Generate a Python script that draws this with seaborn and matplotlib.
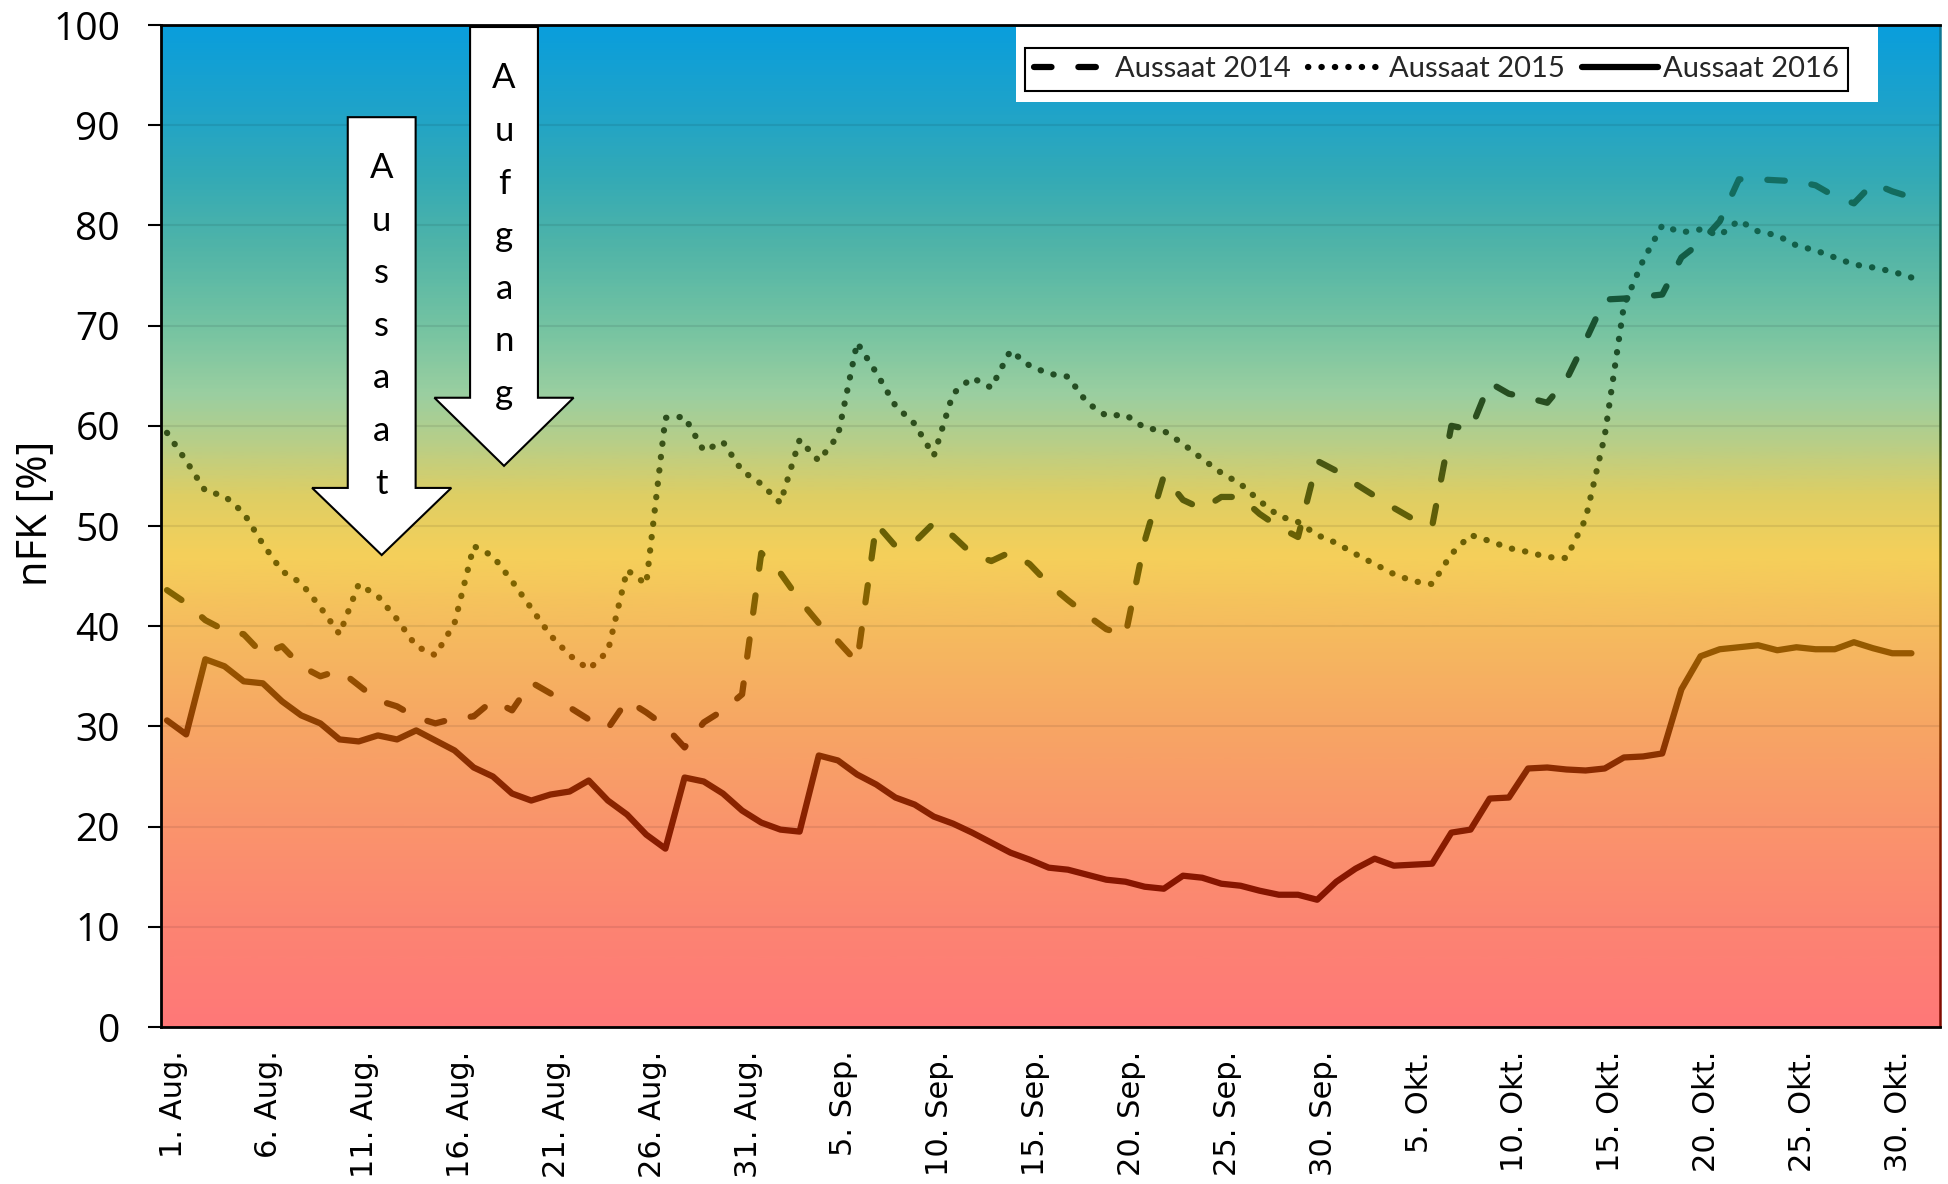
import numpy as np
import pandas as pd
import matplotlib
matplotlib.use("Agg")
import matplotlib.pyplot as plt
import seaborn as sns
from matplotlib.colors import LinearSegmentedColormap
from matplotlib.lines import Line2D
from matplotlib.patches import Polygon, Rectangle
from matplotlib.patheffects import AbstractPathEffect
from matplotlib.transforms import Bbox, ScaledTranslation

# ---------------------------------------------------------------- data
dates = pd.date_range("2016-08-01", "2016-10-31", freq="D")
day = np.arange(len(dates))

tick_labels = [
    "1. Aug.", "6. Aug.", "11. Aug.", "16. Aug.", "21. Aug.", "26. Aug.",
    "31. Aug.", "5. Sep.", "10. Sep.", "15. Sep.", "20. Sep.", "25. Sep.",
    "30. Sep.", "5. Okt.", "10. Okt.", "15. Okt.", "20. Okt.", "25. Okt.",
    "30. Okt.",
]

series_names = ["Aussaat 2014", "Aussaat 2015", "Aussaat 2016"]

nfk_2014 = [
    43.6, 42.3, 40.6, 39.6, 39.2, 37.2, 38.0, 36.0, 35.0, 35.6,
    34.1, 32.6, 32.0, 30.9, 30.3, 30.8, 31.0, 32.6, 31.6, 34.4,
    33.3, 31.9, 30.7, 29.8, 32.6, 31.4, 30.0, 27.9, 30.4, 31.6,
    33.2, 47.3, 45.3, 42.6, 40.3, 38.5, 36.4, 50.2, 48.0, 48.4,
    50.3, 49.0, 47.2, 46.5, 47.4, 46.2, 44.2, 42.6, 41.1, 39.7,
    39.1, 48.5, 55.0, 52.6, 51.7, 52.9, 52.9, 51.2, 49.9, 48.9,
    56.5, 55.5, 54.2, 53.0, 51.8, 50.7, 50.0, 60.0, 59.6, 64.3,
    63.2, 62.8, 62.3, 64.6, 68.5, 72.6, 72.7, 72.9, 73.1, 76.8,
    78.3, 80.4, 84.6, 84.6, 84.5, 84.4, 84.0, 82.9, 82.2, 84.2,
    83.4, 82.8,
]

nfk_2015 = [
    59.3, 56.5, 53.5, 53.0, 51.3, 48.2, 45.5, 44.3, 41.9, 39.2,
    44.2, 43.0, 40.7, 38.0, 37.1, 40.3, 48.0, 47.0, 44.5, 41.8,
    39.1, 37.1, 35.7, 37.5, 45.6, 44.2, 60.8, 60.9, 57.5, 58.4,
    55.5, 54.2, 52.3, 58.6, 56.5, 59.0, 68.3, 65.3, 62.0, 60.2,
    57.0, 63.2, 64.8, 63.8, 67.5, 66.0, 65.2, 64.9, 62.3, 61.0,
    61.1, 59.8, 59.5, 58.2, 56.7, 55.3, 54.2, 52.5, 51.0, 50.4,
    49.1, 48.3, 47.2, 46.2, 45.2, 44.5, 44.2, 47.2, 49.1, 48.5,
    47.8, 47.4, 46.9, 46.8, 50.7, 59.0, 72.0, 76.5, 80.0, 79.3,
    79.6, 79.0, 80.5, 79.4, 79.0, 78.0, 77.5, 76.8, 76.1, 75.8,
    75.4, 74.8,
]

nfk_2016 = [
    30.6, 29.2, 36.7, 36.0, 34.5, 34.3, 32.5, 31.1, 30.3, 28.7,
    28.5, 29.1, 28.7, 29.6, 28.6, 27.6, 25.9, 25.0, 23.3, 22.6,
    23.2, 23.5, 24.6, 22.6, 21.2, 19.2, 17.8, 24.9, 24.5, 23.3,
    21.6, 20.4, 19.7, 19.5, 27.1, 26.6, 25.2, 24.2, 22.9, 22.2,
    21.0, 20.3, 19.4, 18.4, 17.4, 16.7, 15.9, 15.7, 15.2, 14.7,
    14.5, 14.0, 13.8, 15.1, 14.9, 14.3, 14.1, 13.6, 13.2, 13.2,
    12.7, 14.5, 15.8, 16.8, 16.1, 16.2, 16.3, 19.4, 19.7, 22.8,
    22.9, 25.8, 25.9, 25.7, 25.6, 25.8, 26.9, 27.0, 27.3, 33.7,
    37.0, 37.7, 37.9, 38.1, 37.6, 37.9, 37.7, 37.7, 38.4, 37.8,
    37.3, 37.3,
]

# ------------------------------------------------------------- colours
# background: from dry (red) through yellow and green to wet (blue)
bg_cmap = LinearSegmentedColormap.from_list("nfk_bg", [
    (0.00, "#FF7878"), (0.10, "#FC8472"), (0.20, "#FA946C"),
    (0.30, "#F7A664"), (0.40, "#F5BC5E"), (0.47, "#F5D05A"),
    (0.53, "#DECE64"), (0.58, "#BACE86"), (0.63, "#9BCFA0"),
    (0.70, "#74C3A2"), (0.78, "#50B4A8"), (0.85, "#33AAB6"),
    (0.92, "#1EA3CA"), (1.00, "#0A9EDC"),
])

# stroke colour: a deep shade of the background at the same height
ink_cmap = LinearSegmentedColormap.from_list("nfk_ink", [
    (0.00, "#820A00"), (0.15, "#871600"), (0.25, "#8A2800"),
    (0.30, "#8E3E00"), (0.37, "#985800"), (0.44, "#806400"),
    (0.50, "#645F05"), (0.55, "#505A0F"), (0.60, "#2D4E1C"),
    (0.68, "#1C4E2A"), (0.75, "#12583E"), (0.82, "#126958"),
    (0.90, "#167878"), (1.00, "#0F7896"),
])


class ValueGradientStroke(AbstractPathEffect):
    """Stroke a path row by row, colouring each pixel row by its y value."""

    def __init__(self, ax, cmap, xpad=0.0):
        super().__init__()
        self._ax = ax
        self._cmap = cmap
        self._xpad = xpad

    def draw_path(self, renderer, gc, tpath, affine, rgbFace=None):
        bb = self._ax.bbox
        inv = self._ax.transData.inverted()
        y_lo, y_hi = self._ax.get_ylim()
        for row in range(int(np.floor(bb.y0)), int(np.ceil(bb.y1))):
            value = inv.transform((bb.x0, row + 0.5))[1]
            frac = float(np.clip((value - y_lo) / (y_hi - y_lo), 0, 1))
            g = renderer.new_gc()
            g.copy_properties(gc)
            g.set_clip_rectangle(Bbox([[bb.x0 - self._xpad, row],
                                       [bb.x1 + self._xpad, row + 1]]))
            g.set_foreground(self._cmap(frac))
            renderer.draw_path(g, tpath, affine, rgbFace)
            g.restore()


# ---------------------------------------------------------------- plot
sns.set_theme(style="white")
plt.rcParams["font.family"] = ["Lato", "DejaVu Sans"]

fig = plt.figure(figsize=(19.48, 11.84), dpi=100)
ax = fig.add_axes([0.082649, 0.132601, 0.913244, 0.846284])

XMIN, XMAX = -0.313, 92.49
ax.imshow(np.linspace(0, 1, 600).reshape(-1, 1), extent=(XMIN, XMAX, 0, 100),
          origin="lower", aspect="auto", cmap=bg_cmap,
          interpolation="bilinear", zorder=0)

LW = 4.5
line_styles = {
    "Aussaat 2014": (0, (2.8, 4.3)),
    "Aussaat 2015": (0, (0.05, 2.1)),
    "Aussaat 2016": "-",
}
for name, values in zip(series_names, [nfk_2014, nfk_2015, nfk_2016]):
    sns.lineplot(x=day, y=values, ax=ax, color="black", linewidth=LW,
                 linestyle=line_styles[name], errorbar=None, legend=False,
                 zorder=3)

stroke = ValueGradientStroke(ax, ink_cmap)
for ln in ax.lines:
    ln.set_dash_capstyle("round")
    ln.set_solid_capstyle("round")
    ln.set_dash_joinstyle("round")
    ln.set_solid_joinstyle("round")
    ln.set_path_effects([stroke])

ax.set_xlim(XMIN, XMAX)
ax.set_ylim(0, 100)
ax.set_xlabel("")
ax.set_ylabel("")

# grid and frame
ax.set_axisbelow(True)
ax.yaxis.grid(True, color="black", alpha=0.08, linewidth=1.5)
ax.xaxis.grid(False)
for side in ["left", "bottom", "top"]:
    ax.spines[side].set_color("black")
    ax.spines[side].set_linewidth(2.0)
ax.spines["right"].set_linewidth(1.8)
ax.spines["right"].set_path_effects([ValueGradientStroke(ax, ink_cmap, xpad=5)])

# ticks
ax.set_xticks(day[::5])
ax.set_xticklabels(tick_labels, rotation=90, fontsize=22,
                   fontfamily="DejaVu Sans", color="black")
ax.tick_params(axis="x", length=0, pad=17, bottom=False)
label_nudge = ScaledTranslation(0.06, 0, fig.dpi_scale_trans)
for lbl in ax.get_xticklabels():
    lbl.set_transform(lbl.get_transform() + label_nudge)
ax.set_yticks(np.arange(0, 101, 10))
ax.tick_params(axis="y", left=True, direction="out", length=9.5, width=1.5,
               color="black", pad=20, labelsize=28, labelcolor="black")
for lbl in ax.get_yticklabels():
    lbl.set_fontfamily("Open Sans")

fig.text(0.018, 0.5667, "nFK [%]", rotation=90, ha="center", va="center",
         fontsize=30, fontfamily="Open Sans", color="black")

# sowing / emergence arrows with stacked lettering
arrows = [
    ("Aussaat", 11.20, 90.8, 53.8, 47.1, 84.74),
    ("Aufgang", 17.58, 99.8, 62.8, 56.0, 93.67),
]
HALF_SHAFT, HALF_HEAD, LETTER_STEP = 1.77, 3.63, 5.25
for word, cx, top, neck, tip, first_base in arrows:
    outline = [(cx - HALF_SHAFT, top), (cx + HALF_SHAFT, top),
               (cx + HALF_SHAFT, neck), (cx + HALF_HEAD, neck), (cx, tip),
               (cx - HALF_HEAD, neck), (cx - HALF_SHAFT, neck)]
    ax.add_patch(Polygon(outline, closed=True, facecolor="white",
                         edgecolor="black", linewidth=1.5, joinstyle="miter",
                         zorder=6))
    for k, letter in enumerate(word):
        ax.text(cx, first_base - k * LETTER_STEP, letter, ha="center",
                va="baseline", fontsize=25, fontfamily="Lato",
                color="black", zorder=7)

# legend on a white panel
ax.add_patch(Rectangle((0.4806, 0.923), 0.4844, 0.075, transform=ax.transAxes,
                       facecolor="white", edgecolor="none", zorder=7))
handles = [Line2D([], [], color="black", linewidth=LW,
                  linestyle=line_styles[n], dash_capstyle="round",
                  solid_capstyle="round") for n in series_names]
leg = ax.legend(handles, series_names, ncol=3, loc="center",
                bbox_to_anchor=(0.7170, 0.9556), frameon=True, fancybox=False,
                framealpha=1, facecolor="white", edgecolor="black",
                fontsize=21, handlelength=2.6, handletextpad=0.17,
                columnspacing=0.6, borderpad=0.3, borderaxespad=0)
leg.get_frame().set_linewidth(1.5)
leg.set_zorder(8)

fig.savefig("out.png", dpi=100, facecolor="white")
